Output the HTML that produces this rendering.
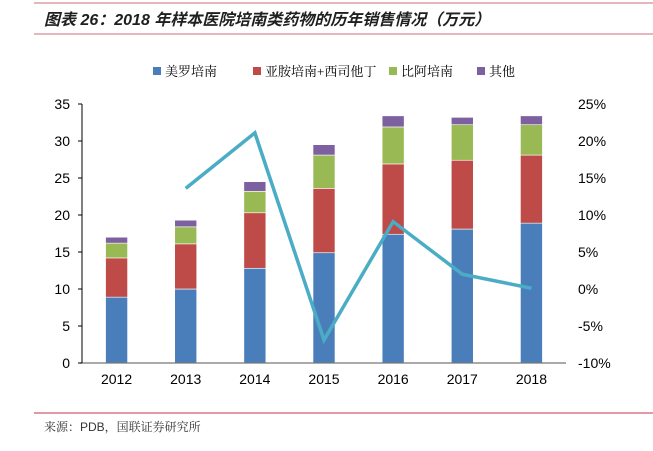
<!DOCTYPE html>
<html><head><meta charset="utf-8"><style>
body{margin:0;background:#fff;width:653px;height:446px;overflow:hidden;font-family:"Liberation Sans","Noto Sans CJK SC",sans-serif}
</style></head><body>
<svg width="653" height="446" xmlns="http://www.w3.org/2000/svg">
<line x1="34" y1="3" x2="653" y2="3" stroke="#d88a98" stroke-width="1.2"/>
<text x="44" y="25" font-size="16" font-weight="bold" font-style="italic" fill="#1f1f1f" font-family="Liberation Sans,Noto Sans CJK SC,sans-serif">图表 26：2018 年样本医院培南类药物的历年销售情况（万元）</text>
<line x1="34" y1="34" x2="653" y2="34" stroke="#d88a98" stroke-width="1.2"/>
<g id="legend"></g>
<g id="grid"></g><g id="bars"></g><g id="line"></g><g id="axes"></g>
<line x1="34" y1="413" x2="653" y2="413" stroke="#c8324a" stroke-width="1"/>
<text x="44" y="431" font-size="12" fill="#333" font-family="Liberation Sans,Noto Serif CJK SC,serif">来源：PDB，国联证券研究所</text>
</svg>
<script>
const categories=["2012","2013","2014","2015","2016","2017","2018"];
const meropenem=[8.9,10.0,12.8,14.9,17.4,18.1,18.9];
const imipenem=[5.3,6.1,7.5,8.7,9.5,9.3,9.2];
const biapenem=[2.0,2.3,2.9,4.5,5.0,4.8,4.1];
const others=[0.8,0.9,1.3,1.4,1.5,1.0,1.2];
const growthYears=["2013","2014","2015","2016","2017","2018"];
const growth=[13.6,21.1,-6.9,9.1,2.0,0.1];
const leftTicks=[0,5,10,15,20,25,30,35];
const rightTicks=[-10,-5,0,5,10,15,20,25];
const seriesNames=["美罗培南","亚胺培南+西司他丁","比阿培南","其他"];
const colors=["#4a7ebb","#be4b48","#98b954","#7d60a0"];
const NS="http://www.w3.org/2000/svg";
const X0=82,X1=566,Y0=363,Y1=104;
const band=(X1-X0)/categories.length;
const xc=i=>X0+band*(i+0.5);
const yL=v=>Y0-(v/35)*(Y0-Y1);
const yR=v=>Y0-((v+10)/35)*(Y0-Y1);
function mk(t,a,p){const e=document.createElementNS(NS,t);for(const k in a)e.setAttribute(k,a[k]);p.appendChild(e);return e;}
const bars=document.getElementById('bars'),axes=document.getElementById('axes'),lg=document.getElementById('legend'),ln=document.getElementById('line');
const series=[meropenem,imipenem,biapenem,others];
categories.forEach((c,i)=>{let acc=0;series.forEach((s,k)=>{
 const r=mk('rect',{x:xc(i)-11,y:yL(acc+s[i]),width:22,height:yL(acc)-yL(acc+s[i]),fill:colors[k],stroke:'#fff','stroke-width':0.6},bars);
 
 
 acc+=s[i];});
 const t=mk('text',{x:xc(i),y:Y0+21,'font-size':14,'text-anchor':'middle',fill:'#000'},axes);t.textContent=c;
 
 
});
const bl=mk('line',{x1:X0-2,y1:Y0,x2:X1,y2:Y0,stroke:'#777','stroke-width':1.2},axes);


const ya=mk('line',{x1:X0,y1:Y1,x2:X0,y2:Y0,stroke:'#000','stroke-width':1},axes);


leftTicks.forEach(v=>{const t=mk('text',{x:70,y:yL(v)+5,'font-size':14,'text-anchor':'end'},axes);t.textContent=v;
 
 
 const tm=mk('line',{x1:X0-4,y1:yL(v),x2:X0,y2:yL(v),stroke:'#000'},axes);
 
 });
rightTicks.forEach(v=>{const t=mk('text',{x:578,y:yR(v)+5,'font-size':14},axes);t.textContent=v+'%';
 
 });
const pts=growth.map((g,j)=>xc(categories.indexOf(growthYears[j]))+','+yR(g)).join(' ');
const pl=mk('polyline',{points:pts,fill:'none',stroke:'#4bacc6','stroke-width':3.5,'stroke-linejoin':'miter'},ln);


const lx=[153,253,389,477];
seriesNames.forEach((n,k)=>{const g=mk('g',{},lg);
 
 
 mk('rect',{x:lx[k],y:67,width:8,height:8,fill:colors[k]},g);
 const t=mk('text',{x:lx[k]+12,y:76,'font-size':13,'font-family':'Liberation Serif,Noto Serif CJK SC,serif'},g);t.textContent=n;});
</script>
</body></html>
